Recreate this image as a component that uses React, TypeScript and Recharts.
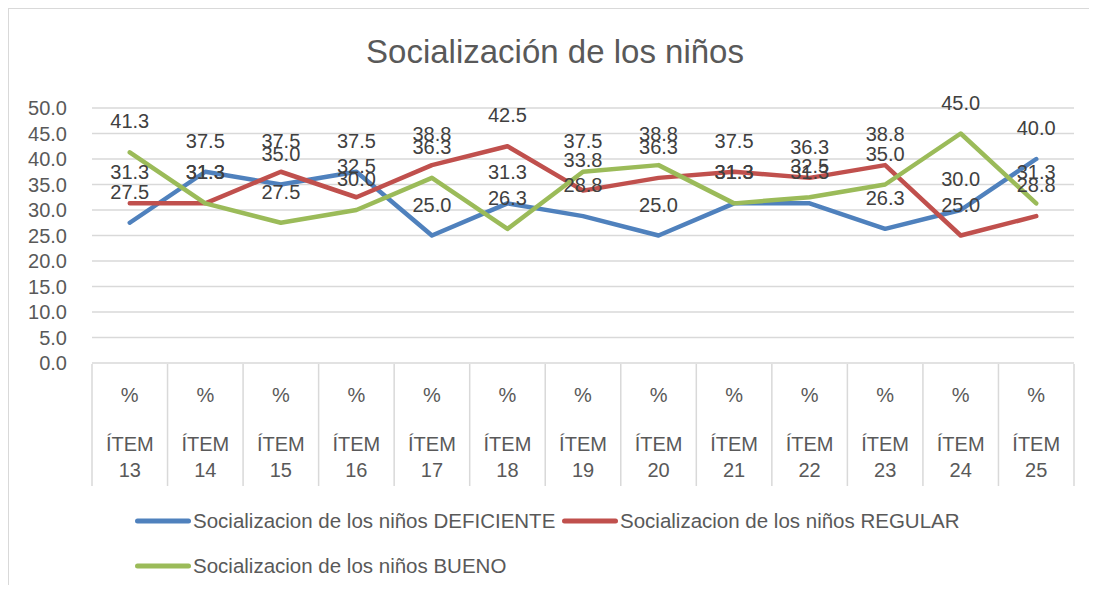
import React from 'react';
import { LineChart, Line, XAxis, YAxis, CartesianGrid, LabelList, Legend } from 'recharts';

const categories = ['ÍTEM 13', 'ÍTEM 14', 'ÍTEM 15', 'ÍTEM 16', 'ÍTEM 17', 'ÍTEM 18', 'ÍTEM 19', 'ÍTEM 20', 'ÍTEM 21', 'ÍTEM 22', 'ÍTEM 23', 'ÍTEM 24', 'ÍTEM 25'];
const unitLabel = '%';
const deficiente = [27.5, 37.5, 35.0, 37.5, 25.0, 31.3, 28.8, 25.0, 31.3, 31.3, 26.3, 30.0, 40.0];
const regular = [31.3, 31.3, 37.5, 32.5, 38.8, 42.5, 33.8, 36.3, 37.5, 36.3, 38.8, 25.0, 28.8];
const bueno = [41.3, 31.3, 27.5, 30.0, 36.3, 26.3, 37.5, 38.8, 31.3, 32.5, 35.0, 45.0, 31.3];
const seriesNames = [
  'Socializacion de los niños DEFICIENTE',
  'Socializacion de los niños REGULAR',
  'Socializacion de los niños BUENO',
];
const yTicks = [0, 5, 10, 15, 20, 25, 30, 35, 40, 45, 50];
const title = 'Socialización de los niños';

const data = categories.map((c, i) => ({
  idx: i,
  cat: c,
  def: deficiente[i],
  reg: regular[i],
  bue: bueno[i],
}));
const xTicks = categories.map((_, i) => i);

const W = 1080;
const H = 576;
const PLOT_LEFT = 83;
const PLOT_RIGHT = 1065;
const PLOT_TOP = 100;
const PLOT_BOTTOM = 355;
const Y_AXIS_W = 60;
const X_AXIS_H = 123;
const BAND = (PLOT_RIGHT - PLOT_LEFT) / categories.length;

const FONT = "'Liberation Sans', Arial, sans-serif";
const GRID = '#d9d9d9';
const TXT = '#595959';
const COLORS = ['#4F81BD', '#C0504D', '#9BBB59'];

const CategoryTick = (props: any) => {
  const { x, payload } = props;
  const i = payload.value as number;
  const cat = categories[i] || '';
  const parts = cat.split(' ');
  const isLast = i === categories.length - 1;
  return (
    <g>
      <line x1={x - BAND / 2} x2={x - BAND / 2} y1={PLOT_BOTTOM} y2={PLOT_BOTTOM + 122} stroke={GRID} strokeWidth={1.5} />
      {isLast && (
        <line x1={x + BAND / 2} x2={x + BAND / 2} y1={PLOT_BOTTOM} y2={PLOT_BOTTOM + 122} stroke={GRID} strokeWidth={1.5} />
      )}
      <text x={x} y={393} textAnchor="middle" fontSize={20} fill={TXT}>{unitLabel}</text>
      <text x={x} y={442} textAnchor="middle" fontSize={20} fill={TXT}>{parts[0]}</text>
      <text x={x} y={468} textAnchor="middle" fontSize={20} fill={TXT}>{parts[1]}</text>
    </g>
  );
};

const renderLabel = (props: any) => {
  const { x, y, value } = props;
  if (x == null || y == null) return null;
  return (
    <text x={x} y={y - 24} textAnchor="middle" fontSize={20} fill="#404040">
      {Number(value).toFixed(1)}
    </text>
  );
};

const renderLegend = (props: any) => {
  const payload = [...(props.payload || [])].sort(
    (a: any, b: any) => seriesNames.indexOf(a.value) - seriesNames.indexOf(b.value)
  );
  return (
    <div style={{ display: 'flex', flexWrap: 'wrap', width: 860, fontFamily: FONT }}>
      {payload.map((entry: any, i: number) => (
        <div key={i} style={{ display: 'flex', alignItems: 'center', width: 427, height: 45 }}>
          <svg width={56} height={8} style={{ display: 'block' }}>
            <line x1={2.5} x2={53.5} y1={4} y2={4} stroke={entry.color} strokeWidth={5} strokeLinecap="round" />
          </svg>
          <span style={{ marginLeft: 2, fontSize: 20.5, color: TXT, whiteSpace: 'nowrap' }}>{entry.value}</span>
        </div>
      ))}
    </div>
  );
};

export default function App() {
  return (
    <div
      style={{
        position: 'relative',
        width: 1081,
        height: 577,
        boxSizing: 'border-box',
        borderLeft: `1px solid ${GRID}`,
        fontFamily: FONT,
        background: '#fff',
      }}
    >
      <div style={{ position: 'absolute', left: -1, top: 0, width: 1089, height: 1, background: GRID }} />
      <div
        style={{
          position: 'absolute',
          left: 0,
          top: 28,
          width: 1092,
          textAlign: 'center',
          fontSize: 33,
          lineHeight: '32px',
          color: TXT,
          whiteSpace: 'nowrap',
          zIndex: 2,
        }}
      >
        {title}
      </div>
      <div style={{ position: 'absolute', left: 0, top: 1 }}>
        <LineChart
          width={W}
          height={H - 1}
          data={data}
          margin={{ top: PLOT_TOP - 1, right: W - PLOT_RIGHT, left: PLOT_LEFT - Y_AXIS_W, bottom: H - PLOT_BOTTOM - X_AXIS_H }}
        >
          <CartesianGrid vertical={false} stroke={GRID} strokeWidth={1.5} />
          <XAxis
            dataKey="idx"
            type="number"
            domain={[-0.5, categories.length - 0.5]}
            ticks={xTicks}
            interval={0}
            axisLine={false}
            tickLine={false}
            height={X_AXIS_H}
            tick={<CategoryTick />}
          />
          <YAxis
            type="number"
            domain={[0, 50]}
            ticks={yTicks}
            interval={0}
            width={Y_AXIS_W}
            axisLine={false}
            tickLine={false}
            tickMargin={19}
            tick={{ fontSize: 20, fill: TXT }}
            tickFormatter={(v: number) => v.toFixed(1)}
          />
          <Line type="linear" dataKey="def" name={seriesNames[0]} stroke={COLORS[0]} strokeWidth={4.5} dot={false} strokeLinecap="round" strokeLinejoin="round" isAnimationActive={false}>
            <LabelList dataKey="def" content={renderLabel} />
          </Line>
          <Line type="linear" dataKey="reg" name={seriesNames[1]} stroke={COLORS[1]} strokeWidth={4.5} dot={false} strokeLinecap="round" strokeLinejoin="round" isAnimationActive={false}>
            <LabelList dataKey="reg" content={renderLabel} />
          </Line>
          <Line type="linear" dataKey="bue" name={seriesNames[2]} stroke={COLORS[2]} strokeWidth={4.5} dot={false} strokeLinecap="round" strokeLinejoin="round" isAnimationActive={false}>
            <LabelList dataKey="bue" content={renderLabel} />
          </Line>
          <Legend
            layout="horizontal"
            verticalAlign="middle"
            align="center"
            wrapperStyle={{ left: 126, top: 489, width: 860, height: 90 }}
            content={renderLegend}
          />
        </LineChart>
      </div>
    </div>
  );
}
